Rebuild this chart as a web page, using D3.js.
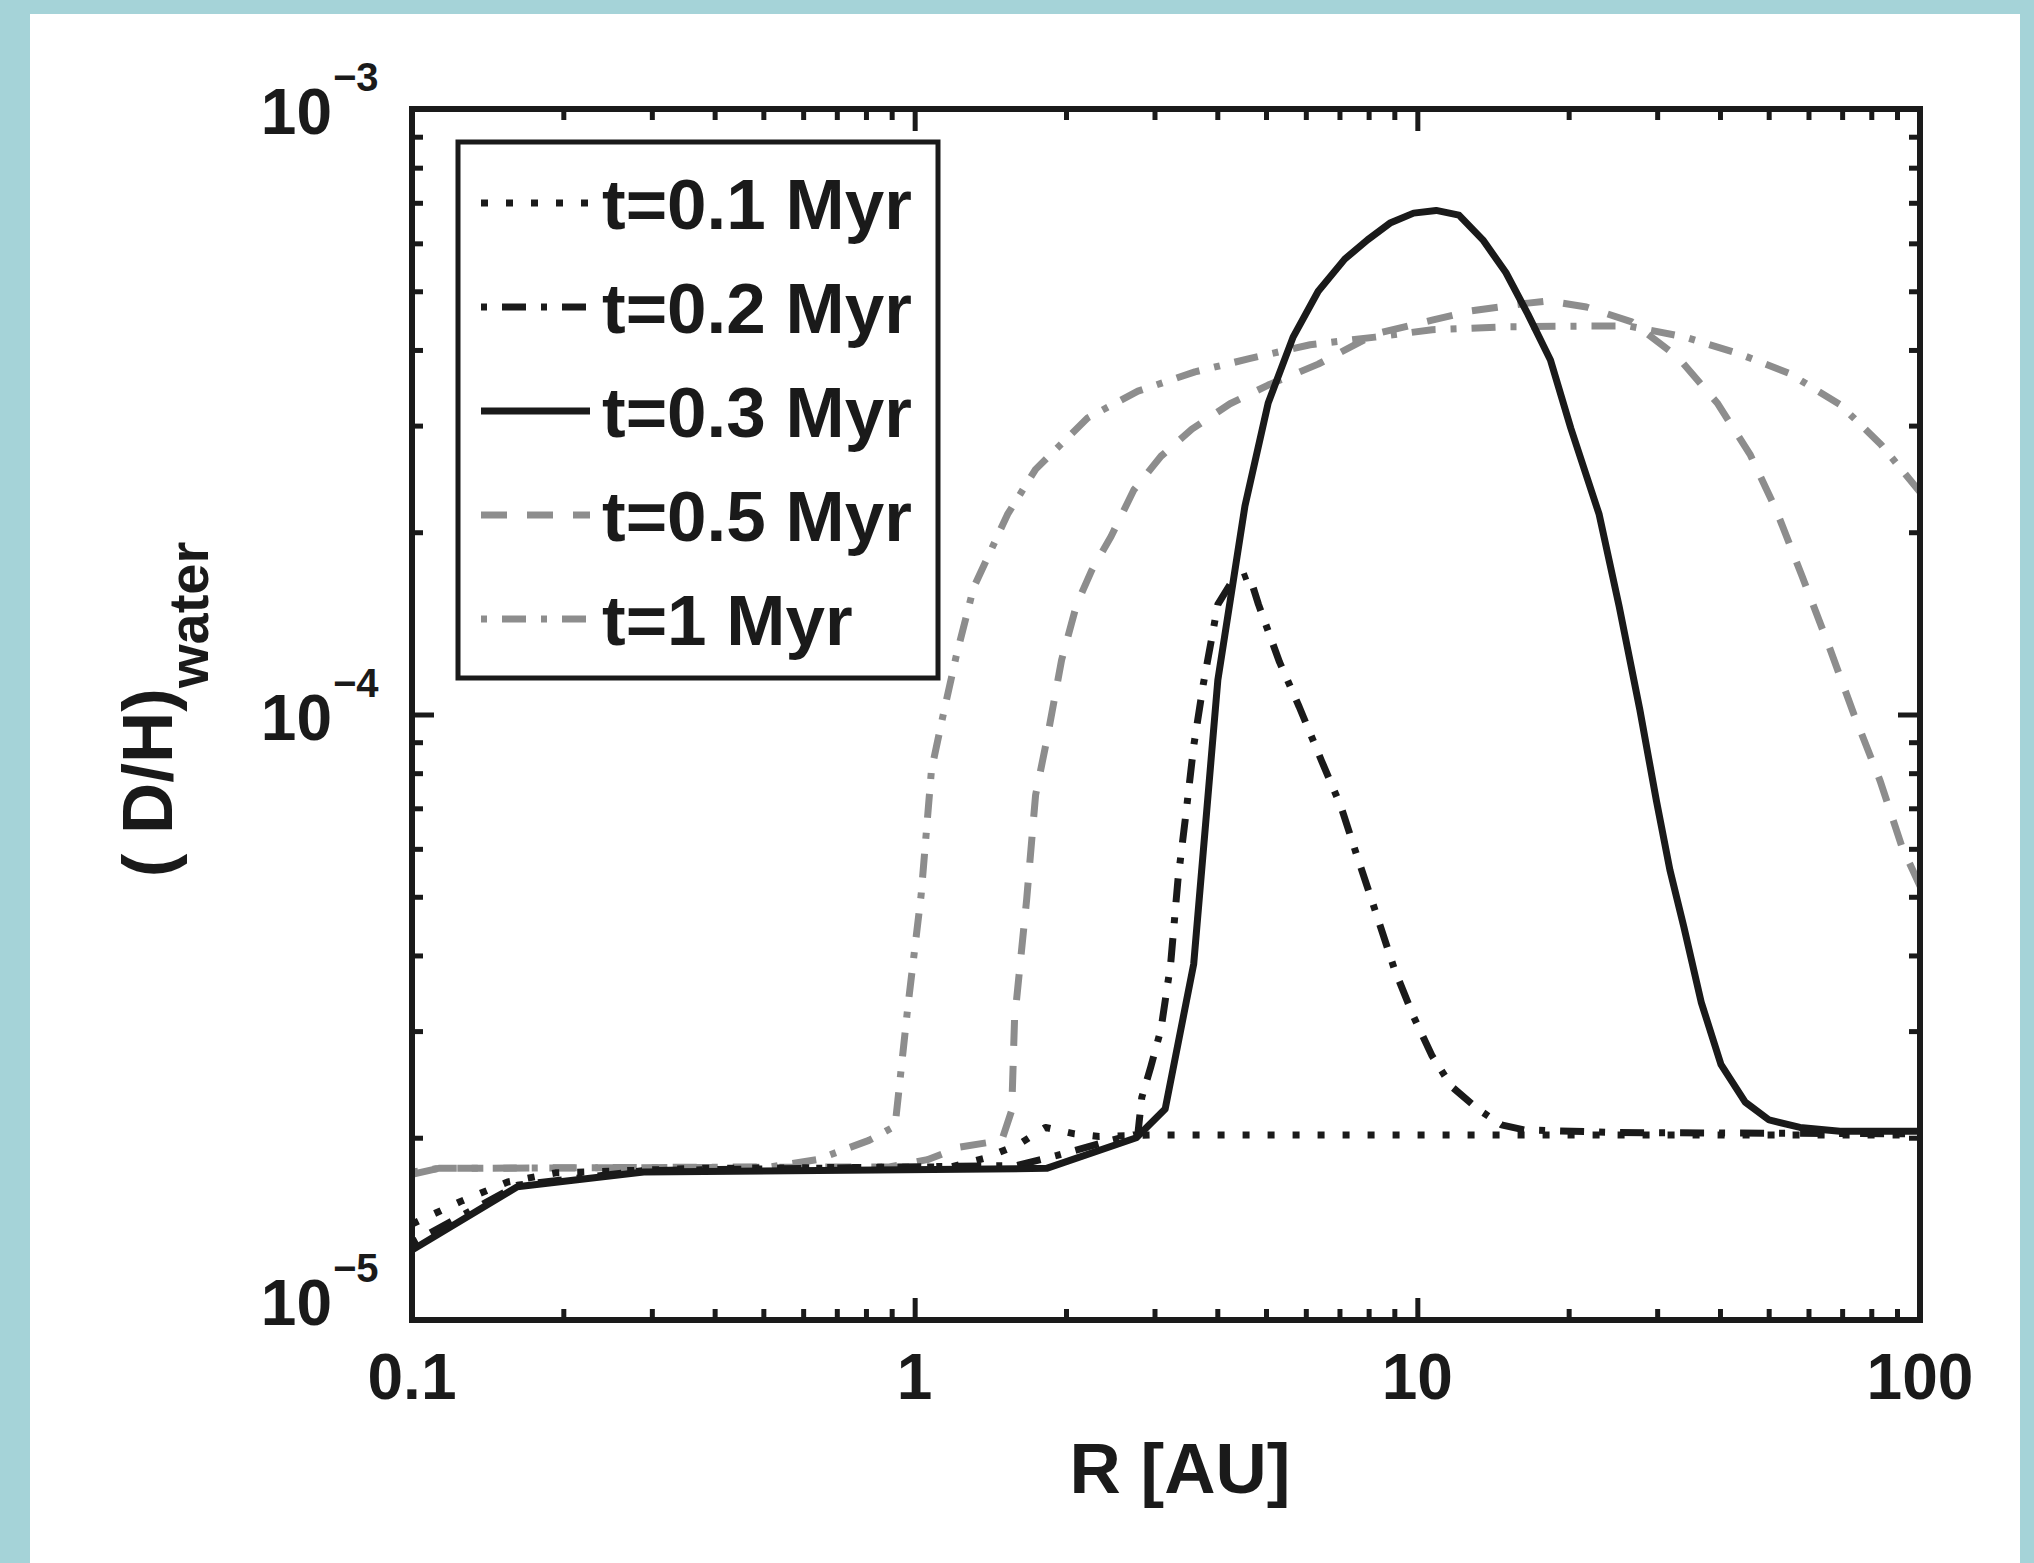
<!DOCTYPE html>
<html>
<head>
<meta charset="utf-8">
<script src="https://cdn.jsdelivr.net/npm/d3@7"></script>
<style>
  html, body { margin: 0; padding: 0; background: #a5d3d8; }
  svg { display: block; }
  text { font-family: "Liberation Sans", Arial, Helvetica, sans-serif; font-weight: bold; fill: #1a1a1a; }
</style>
</head>
<body>
<div id="chart"></div>
<script>
// [R (AU), (D/H)water]
const t01 = [[0.1,1.44e-5],[0.125,1.57e-5],[0.155,1.69e-5],[0.193,1.75e-5],[0.374,1.78e-5],[1.18,1.79e-5],[1.38,1.85e-5],[1.61,1.95e-5],[1.82,2.08e-5],[2.08,2.03e-5],[2.33,2.01e-5],[2.94,2.02e-5],[100,2.02e-5]];
const t02 = [[0.1,1.34e-5],[0.162,1.67e-5],[0.29,1.765e-5],[1.6,1.8e-5],[1.92,1.87e-5],[2.46,1.98e-5],[2.78,2.03e-5],[2.83,2.33e-5],[2.95,2.62e-5],[3.09,3.02e-5],[3.23,3.87e-5],[3.34,5.33e-5],[3.47,6.93e-5],[3.59,8.87e-5],[3.75,1.12e-4],[4.01,1.52e-4],[4.28,1.66e-4],[4.63,1.70e-4],[4.83,1.52e-4],[5.32,1.22e-4],[5.82,1.03e-4],[6.45,8.38e-5],[7.05,7.04e-5],[7.55,5.91e-5],[8.24,4.75e-5],[8.99,3.81e-5],[9.83,3.17e-5],[10.7,2.73e-5],[11.7,2.43e-5],[13.2,2.23e-5],[14.7,2.10e-5],[16.3,2.06e-5],[25,2.04e-5],[100,2.03e-5]];
const t03 = [[0.1,1.305e-5],[0.162,1.66e-5],[0.289,1.755e-5],[1.83,1.78e-5],[2.76,2.0e-5],[3.15,2.23e-5],[3.59,3.87e-5],[4.01,1.14e-4],[4.54,2.21e-4],[5.05,3.27e-4],[5.66,4.2e-4],[6.35,5.0e-4],[7.17,5.65e-4],[7.96,6.08e-4],[8.85,6.49e-4],[9.83,6.73e-4],[10.9,6.8e-4],[12.1,6.68e-4],[13.5,6.08e-4],[15.0,5.37e-4],[16.6,4.58e-4],[18.4,3.85e-4],[20.2,2.97e-4],[23.0,2.14e-4],[25.2,1.51e-4],[27.7,1.02e-4],[29.9,7.2e-5],[31.8,5.54e-5],[33.9,4.46e-5],[36.7,3.35e-5],[40.2,2.64e-5],[44.9,2.29e-5],[50.1,2.14e-5],[57.7,2.08e-5],[69.3,2.05e-5],[100,2.05e-5]];
const t05 = [[0.1,1.74e-5],[0.113,1.78e-5],[0.89,1.79e-5],[1.06,1.84e-5],[1.23,1.93e-5],[1.49,1.98e-5],[1.56,2.22e-5],[1.58,3.13e-5],[1.67,4.94e-5],[1.74,7.36e-5],[1.84,9.25e-5],[1.96,1.23e-4],[2.10,1.52e-4],[2.25,1.73e-4],[2.46,1.97e-4],[2.73,2.35e-4],[3.09,2.67e-4],[3.56,2.96e-4],[4.24,3.26e-4],[5.05,3.5e-4],[6.35,3.79e-4],[8.24,4.25e-4],[10.7,4.48e-4],[12.8,4.64e-4],[16.6,4.78e-4],[18.2,4.82e-4],[21.7,4.71e-4],[26.7,4.45e-4],[33.0,3.89e-4],[39.5,3.27e-4],[45.9,2.69e-4],[51.7,2.18e-4],[58.3,1.69e-4],[65.6,1.31e-4],[73.9,1.0e-4],[83.3,7.77e-5],[92.1,6.04e-5],[100,5.21e-5]];
const t10 = [[0.1,1.755e-5],[0.113,1.78e-5],[0.516,1.79e-5],[0.639,1.84e-5],[0.811,1.98e-5],[0.914,2.09e-5],[0.926,2.31e-5],[0.97,3.31e-5],[1.03,5.03e-5],[1.08,8.1e-5],[1.14,1.0e-4],[1.21,1.25e-4],[1.31,1.62e-4],[1.53,2.14e-4],[1.74,2.54e-4],[2.21,3.09e-4],[2.78,3.42e-4],[3.61,3.68e-4],[4.63,3.87e-4],[6.12,4.08e-4],[8.24,4.2e-4],[10.7,4.32e-4],[15.2,4.37e-4],[21.7,4.38e-4],[26.4,4.38e-4],[34.1,4.2e-4],[43.4,3.95e-4],[54.9,3.66e-4],[69.3,3.25e-4],[83.7,2.79e-4],[100,2.33e-4]];

const legendLabels = ["t=0.1 Myr", "t=0.2 Myr", "t=0.3 Myr", "t=0.5 Myr", "t=1 Myr"];
const xTicks = [0.1, 1, 10, 100];
const xTickLabels = ["0.1", "1", "10", "100"];
const yTicks = [1e-5, 1e-4, 1e-3];
const yTickExps = ["\u22125", "\u22124", "\u22123"];

const BLACK = "#1a1a1a", GRAY = "#8d8d8d";
const series = [
  {data: t01, color: BLACK, dash: "7 18"},
  {data: t02, color: BLACK, dash: "6 15 24 15"},
  {data: t03, color: BLACK, dash: null},
  {data: t05, color: GRAY, dash: "26 20"},
  {data: t10, color: GRAY, dash: "6 15 24 15"}
];

var W = 2034, H = 1563;
var margin = {top: 109, right: 114, bottom: 243, left: 412};
var width = W - margin.left - margin.right;
var height = H - margin.top - margin.bottom;

var svg = d3.select("#chart").append("svg")
    .attr("width", W)
    .attr("height", H);

// teal frame, white page
svg.append("rect").attr("width", W).attr("height", H).attr("fill", "#a5d3d8");
svg.append("rect").attr("x", 30).attr("y", 14).attr("width", 1990).attr("height", H - 14).attr("fill", "#ffffff");

var g = svg.append("g").attr("transform", "translate(" + margin.left + "," + margin.top + ")");

var x = d3.scaleLog().domain([0.1, 100]).range([0, width]);
var y = d3.scaleLog().domain([1e-5, 1e-3]).range([height, 0]);

function minors(lo, hi) {
  var out = [];
  for (var e = lo; e < hi; e++)
    for (var k = 2; k <= 9; k++) out.push(k * Math.pow(10, e));
  return out;
}
var xMinor = minors(-1, 2);
var yMinor = minors(-5, -3);

function ticks(axis, tr) {
  var a = g.append("g").attr("transform", tr).call(axis);
  a.select(".domain").remove();
  a.selectAll("line").attr("stroke", BLACK).attr("stroke-width", 5);
  a.selectAll("text").remove();
  return a;
}
ticks(d3.axisBottom(x).tickValues(xMinor).tickSize(-11), "translate(0," + height + ")");
ticks(d3.axisBottom(x).tickValues([1, 10]).tickSize(-22), "translate(0," + height + ")");
ticks(d3.axisTop(x).tickValues(xMinor).tickSize(-11), "translate(0,0)");
ticks(d3.axisTop(x).tickValues([1, 10]).tickSize(-22), "translate(0,0)");
ticks(d3.axisLeft(y).tickValues(yMinor).tickSize(-11), "translate(0,0)");
ticks(d3.axisLeft(y).tickValues([1e-4]).tickSize(-22), "translate(0,0)");
ticks(d3.axisRight(y).tickValues(yMinor).tickSize(-11), "translate(" + width + ",0)");
ticks(d3.axisRight(y).tickValues([1e-4]).tickSize(-22), "translate(" + width + ",0)");

// x tick labels
g.selectAll(".xlab").data(xTicks).join("text")
    .attr("class", "xlab")
    .attr("x", function(d) { return x(d); })
    .attr("y", height + 79)
    .attr("text-anchor", "middle")
    .attr("font-size", 64)
    .text(function(d, i) { return xTickLabels[i]; });

// y tick labels, 10 with superscript exponent
yTicks.forEach(function(v, i) {
  var base = y(v) + (i === 0 ? 5 : 25);
  g.append("text")
      .attr("x", -80).attr("y", base)
      .attr("text-anchor", "end")
      .attr("font-size", 64)
      .text("10");
  g.append("text")
      .attr("x", -79).attr("y", base - 43)
      .attr("font-size", 40)
      .text(yTickExps[i]);
});

// curves
g.append("clipPath").attr("id", "clip")
  .append("rect").attr("width", width).attr("height", height);

var line = d3.line()
    .x(function(d) { return x(d[0]); })
    .y(function(d) { return y(d[1]); });

var curves = g.append("g").attr("clip-path", "url(#clip)");
// draw the grey ones first, black on top
[3, 4, 0, 1, 2].forEach(function(i) {
  var s = series[i];
  curves.append("path")
      .datum(s.data)
      .attr("fill", "none")
      .attr("stroke", s.color)
      .attr("stroke-width", 7)
      .attr("stroke-linejoin", "round")
      .attr("stroke-dasharray", s.dash)
      .attr("d", line);
});

// frame
g.append("rect")
    .attr("width", width).attr("height", height)
    .attr("fill", "none").attr("stroke", BLACK).attr("stroke-width", 6);

// legend
var leg = g.append("g").attr("transform", "translate(46,33)");
leg.append("rect")
    .attr("width", 480).attr("height", 536)
    .attr("fill", "#ffffff").attr("stroke", BLACK).attr("stroke-width", 5);
legendLabels.forEach(function(lab, i) {
  var s = series[i];
  var by = 87 + i * 104;
  leg.append("line")
      .attr("x1", 23).attr("x2", 132)
      .attr("y1", by - 26).attr("y2", by - 26)
      .attr("stroke", s.color).attr("stroke-width", 7)
      .attr("stroke-dasharray", s.dash);
  leg.append("text")
      .attr("x", 144).attr("y", by)
      .attr("font-size", 71)
      .text(lab);
});

// axis titles
svg.append("text")
    .attr("x", margin.left + width / 2 + 14)
    .attr("y", 1493)
    .attr("text-anchor", "middle")
    .attr("font-size", 71)
    .text("R [AU]");

var yt = svg.append("text")
    .attr("transform", "translate(172," + (margin.top + height / 2 - 5) + ") rotate(-90)")
    .attr("text-anchor", "middle")
    .attr("font-size", 71);
yt.append("tspan").text("( D/H)");
yt.append("tspan").attr("font-size", 56).attr("dy", 36).text("water");
</script>
</body>
</html>
